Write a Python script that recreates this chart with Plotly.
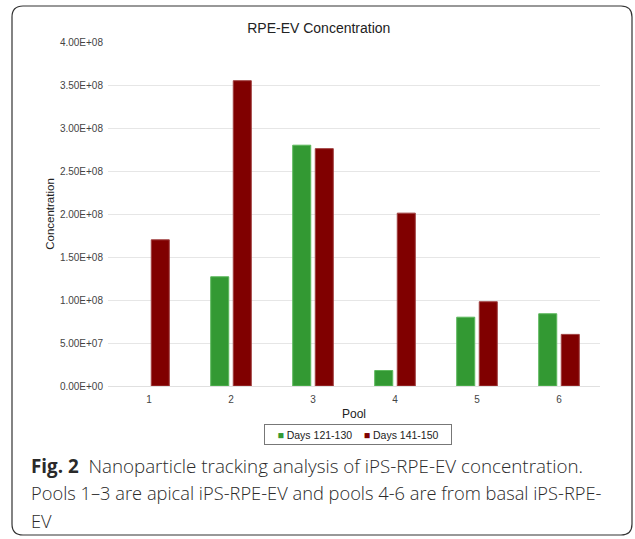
import plotly.graph_objects as go

pools = ["1", "2", "3", "4", "5", "6"]
days_121_130 = [None, 1.27e8, 2.80e8, 1.8e7, 8.0e7, 8.4e7]
days_141_150 = [1.70e8, 3.55e8, 2.76e8, 2.01e8, 0.98e8, 6.0e7]
tick_vals = [0, 5e7, 1e8, 1.5e8, 2e8, 2.5e8, 3e8, 3.5e8, 4e8]
tick_text = ["0.00E+00", "5.00E+07", "1.00E+08", "1.50E+08", "2.00E+08",
             "2.50E+08", "3.00E+08", "3.50E+08", "4.00E+08"]
series_names = ["Days 121-130", "Days 141-150"]
series_colors = ["#339933", "#800000"]
caption_lines = [
    "<b>Fig. 2</b>  Nanoparticle tracking analysis of iPS-RPE-EV concentration.",
    "Pools 1\u20133 are apical iPS-RPE-EV and pools 4-6 are from basal iPS-RPE-",
    "EV",
]
caption_sizes = [18.8, 18.3, 18.3]

W, H = 635, 539
L, R, T, B = 108, 35, 42, 153
pw, ph = W - L - R, H - T - B


def px(x):
    return (x - L) / pw


def py(y):
    return (H - B - y) / ph


fig = go.Figure()
fig.add_bar(x=pools, y=days_121_130, name=series_names[0], showlegend=False,
            marker=dict(color=series_colors[0], line=dict(color="#5cb85c", width=1)))
fig.add_bar(x=pools, y=days_141_150, name=series_names[1], showlegend=False,
            marker=dict(color=series_colors[1], line=dict(color="#a04040", width=1)))

font = "Liberation Sans, Arial, sans-serif"
fig.update_layout(
    width=W, height=H,
    margin=dict(l=L, r=R, t=T, b=B),
    paper_bgcolor="white", plot_bgcolor="white",
    barmode="group", bargap=0.45, bargroupgap=0.2,
    font=dict(family=font, color="#222"),
    title=dict(text="RPE-EV Concentration", x=px(355), xanchor="center",
               y=1 - 28 / H, yanchor="middle", font=dict(size=14, color="#222", family=font)),
    xaxis=dict(showgrid=False, showline=False, ticks="", tickfont=dict(size=10, color="#444"),
               ticklabelstandoff=6,
               title=dict(text="Pool", font=dict(size=12, color="#222"), standoff=5)),
    yaxis=dict(range=[0, 4e8], tickvals=tick_vals, ticktext=tick_text,
               tickfont=dict(size=10, color="#444"), gridcolor="#e6e6e6", gridwidth=1,
               zeroline=True, zerolinecolor="#e0e0e0", zerolinewidth=1, showline=False,
               ticks="", ticklen=0, ticklabelstandoff=4,
               title=dict(text="Concentration", font=dict(size=11.5, color="#222"), standoff=2)),
    showlegend=False,
)

legend_text = "    ".join(
    f"<span style='color:{c}'>\u25a0</span> {n}" for n, c in zip(series_names, series_colors)
)
fig.add_annotation(text=legend_text, xref="paper", yref="paper", x=px(358), y=py(434),
                   xanchor="center", yanchor="middle", showarrow=False, width=180, height=13,
                   align="center", bordercolor="#777", borderwidth=1, borderpad=3,
                   font=dict(family=font, size=10.5, color="#222"))

for i, (line, size) in enumerate(zip(caption_lines, caption_sizes)):
    fig.add_annotation(text=line, xref="paper", yref="paper", x=px(29), y=py(466 + 27 * i),
                       xanchor="left", yanchor="middle", showarrow=False,
                       font=dict(family="Open Sans, Noto Sans, sans-serif", size=size,
                                 color="#2a2a2a", weight=300))

# rounded border
x0, x1, y0, y1, r = 12, 632, 6, 535, 11
path = (f"M {px(x0 + r)},{py(y0)} L {px(x1 - r)},{py(y0)} Q {px(x1)},{py(y0)} {px(x1)},{py(y0 + r)} "
        f"L {px(x1)},{py(y1 - r)} Q {px(x1)},{py(y1)} {px(x1 - r)},{py(y1)} "
        f"L {px(x0 + r)},{py(y1)} Q {px(x0)},{py(y1)} {px(x0)},{py(y1 - r)} "
        f"L {px(x0)},{py(y0 + r)} Q {px(x0)},{py(y0)} {px(x0 + r)},{py(y0)} Z")
fig.add_shape(type="path", path=path, xref="paper", yref="paper",
              line=dict(color="#333", width=1.2), fillcolor="rgba(0,0,0,0)")

fig.write_html("out.html", config={"displayModeBar": False},
               post_script="document.body.style.margin='0';")
